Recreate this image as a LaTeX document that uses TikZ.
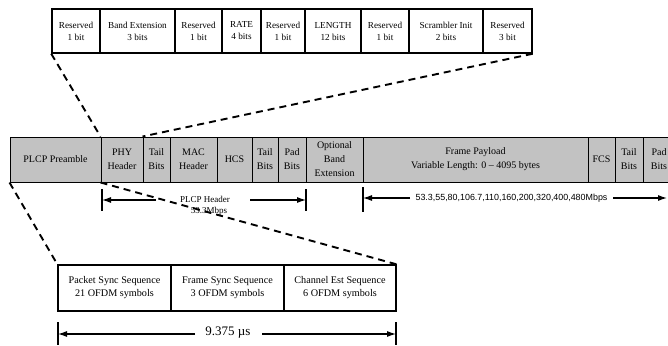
\documentclass[tikz,border=0pt]{standalone}
\usepackage{fontspec}
\setmainfont{Liberation Serif}
\newfontfamily\lsans{Liberation Sans}
\usetikzlibrary{arrows.meta}
\begin{document}
\begin{tikzpicture}[x=1pt,y=-1pt,
  topbox/.style={draw,line width=1.5pt,minimum height=44pt,inner sep=0pt,align=center,font=\fontsize{9.2}{12}\selectfont},
  mainbox/.style={draw,line width=1pt,fill=black!24,minimum height=45pt,inner sep=0pt,align=center,font=\fontsize{10}{14}\selectfont},
  botbox/.style={draw,line width=1.3pt,minimum height=46pt,inner sep=0pt,align=center,font=\fontsize{10.2}{13}\selectfont},
  dashlink/.style={line width=1.9pt,dash pattern=on 7pt off 5pt},
  dimtick/.style={line width=1.1pt},
  dimarrow/.style={line width=1.1pt,-{Latex[length=9pt,width=6pt]}},
  lbl/.style={inner sep=0pt}]
\useasboundingbox (0,0) rectangle (668,345);
% top row
\node[topbox,minimum width=48pt] (t1) at (76,31) {Reserved\\1 bit};
\node[topbox,minimum width=75pt] (t2) at (137.5,31) {Band Extension\\3 bits};
\node[topbox,minimum width=47pt] (t3) at (198.5,31) {Reserved\\1 bit};
\node[topbox,minimum width=39pt] (t4) at (241.5,31) {RATE\\4 bits};
\node[topbox,minimum width=44pt] (t5) at (283,31) {Reserved\\1 bit};
\node[topbox,minimum width=56pt] (t6) at (333,31) {LENGTH\\12 bits};
\node[topbox,minimum width=48pt] (t7) at (385,31) {Reserved\\1 bit};
\node[topbox,minimum width=74pt] (t8) at (446,31) {Scrambler Init\\2 bits};
\node[topbox,minimum width=49pt] (t9) at (507.5,31) {Reserved\\3 bit};
% main row
\node[mainbox,minimum width=91pt] (m1) at (55.5,159.5) {PLCP Preamble};
\node[mainbox,minimum width=42pt] (m2) at (122,159.5) {PHY\\Header};
\node[mainbox,minimum width=27pt] (m3) at (156.5,159.5) {Tail\\Bits};
\node[mainbox,minimum width=47pt] (m4) at (193.5,159.5) {MAC\\Header};
\node[mainbox,minimum width=35pt] (m5) at (234.5,159.5) {HCS};
\node[mainbox,minimum width=26pt] (m6) at (265,159.5) {Tail\\Bits};
\node[mainbox,minimum width=28pt] (m7) at (292,159.5) {Pad\\Bits};
\node[mainbox,minimum width=57pt] (m8) at (334.5,159.5) {Optional\\Band\\Extension};
\node[mainbox,minimum width=225pt] (m9) at (475.5,159.5) {Frame Payload\\Variable Length: 0 -- 4095 bytes};
\node[mainbox,minimum width=27pt] (m10) at (601.5,159.5) {FCS};
\node[mainbox,minimum width=28pt] (m11) at (629,159.5) {Tail\\Bits};
\node[mainbox,minimum width=32pt] (m12) at (659,159.5) {Pad\\Bits};
% bottom row
\node[botbox,minimum width=113pt] (b1) at (114.5,288) {Packet Sync Sequence\\21 OFDM symbols};
\node[botbox,minimum width=113pt] (b2) at (227.5,288) {Frame Sync Sequence\\3 OFDM symbols};
\node[botbox,minimum width=112pt] (b3) at (340,288) {Channel Est Sequence\\6 OFDM symbols};
% dashed expansion lines
\draw[dashlink] (t1.south west) -- (m2.north west);
\draw[dashlink] (t9.south east) -- (m3.north west);
\draw[dashlink] (m1.south west) -- (b1.north west);
\draw[dashlink] (m2.south west) -- (b3.north east);
% PLCP header dimension
\coordinate (h1a) at (102,189); \coordinate (h1b) at (102,211);
\coordinate (h2a) at (306,189); \coordinate (h2b) at (306,211);
\coordinate (h1) at (102,200); \coordinate (h2) at (306,200);
\coordinate (h1s) at (156,200); \coordinate (h2s) at (250,200);
\draw[dimtick] (h1a) -- (h1b);
\draw[dimtick] (h2a) -- (h2b);
\draw[dimarrow] (h1s) -- (h1);
\draw[dimarrow] (h2s) -- (h2);
\node[lbl,font=\fontsize{9}{10}\selectfont] (hl) at (205,199) {PLCP Header};
\node[lbl,font=\fontsize{9}{10}\selectfont] (hr) at (209,211) {53.3Mbps};
% rate dimension
\coordinate (r1a) at (363,187); \coordinate (r1b) at (363,212);
\coordinate (r1) at (363,198); \coordinate (r2) at (667,198);
\coordinate (r1s) at (410,198); \coordinate (r2s) at (613,198);
\draw[dimtick] (r1a) -- (r1b);
\draw[dimarrow] (r1s) -- (r1);
\draw[dimarrow] (r2s) -- (r2);
\node[lbl,font=\lsans\fontsize{8.9}{10}\selectfont] (rl) at (511.5,198) {53.3,55,80,106.7,110,160,200,320,400,480Mbps};
% preamble duration dimension
\coordinate (p1a) at (58,322); \coordinate (p1b) at (58,345);
\coordinate (p2a) at (396,322); \coordinate (p2b) at (396,345);
\coordinate (p1) at (58,334); \coordinate (p2) at (396,334);
\coordinate (p1s) at (195,334); \coordinate (p2s) at (262,334);
\draw[dimtick] (p1a) -- (p1b);
\draw[dimtick] (p2a) -- (p2b);
\draw[dimarrow] (p1s) -- (p1);
\draw[dimarrow] (p2s) -- (p2);
\node[lbl,font=\fontsize{13}{14}\selectfont] (pl) at (228,333) {9.375 µs};
\end{tikzpicture}
\end{document}
